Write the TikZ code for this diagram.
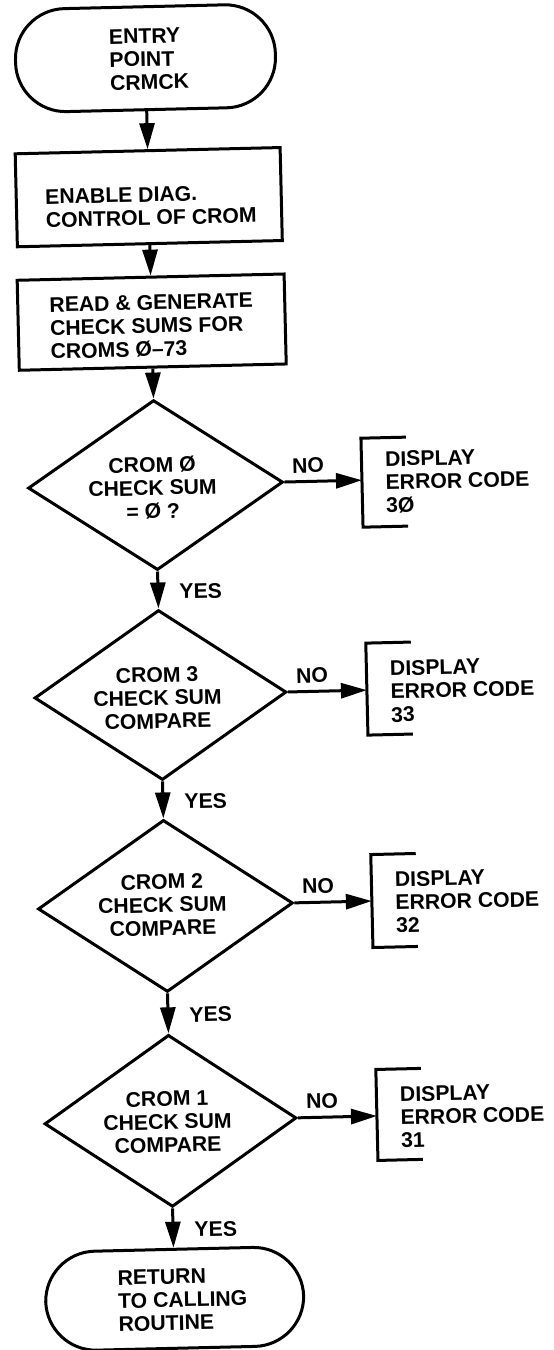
\documentclass[tikz,border=0pt]{standalone}
\usepackage{fontspec}
\setmainfont{Liberation Sans}
\usetikzlibrary{arrows.meta,shapes.geometric}
\newcommand\chartfont{\fontsize{10.6pt}{11.6pt}\selectfont\bfseries}
\begin{document}
\begin{tikzpicture}[x=0.5pt,y=-0.5pt,
  base/.style={draw, line width=1.5pt, inner sep=0pt},
  term/.style={base, rectangle, rounded corners=25pt},
  proc/.style={base, rectangle},
  dec/.style={base, diamond},
  disp/.style={inner sep=0pt, outer sep=0pt, minimum width=22.5pt},
  txt/.style={inner sep=0pt, align=left, font=\chartfont},
  ctxt/.style={inner sep=0pt, align=center, font=\chartfont},
  arr/.style={line width=1.5pt, -{Triangle[length=13pt,width=7.5pt]}},
  brk/.style={line width=1.5pt},
  lblno/.style={inner sep=0pt, font=\chartfont, above=3.5pt, pos=0.31},
  lblyes/.style={inner sep=0pt, font=\chartfont, right=10pt, yshift=-1pt},
]
\useasboundingbox (0,0) rectangle (553,1350);
\begin{scope}[rotate around={1.35:(160,675)}, every node/.append style={transform shape}]
  % main column
  \node[term, minimum width=130pt, minimum height=51.5pt] (t1) at (160,58) {};
  \node[txt] (t1t) at (163.5,59) {ENTRY\\POINT\\CRMCK};
  \node[proc, minimum width=132.5pt, minimum height=46.5pt] (b1) at (160,197) {};
  \node[txt] (b1t) at (162,206) {ENABLE DIAG.\\CONTROL OF CROM};
  \node[proc, minimum width=133.5pt, minimum height=45pt] (b2) at (160,322) {};
  \node[txt] (b2t) at (160,326) {READ \& GENERATE\\CHECK SUMS FOR\\CROMS Ø–73};
  \node[dec, minimum width=127.5pt, minimum height=85pt] (d1) at (160,485) {};
  \node[ctxt] (d1t) at (157,488) {CROM Ø\\CHECK SUM\\= Ø ?};
  \node[dec, minimum width=126pt, minimum height=85pt] (d2) at (160,695) {};
  \node[ctxt] (d2t) at (157,698) {CROM 3\\CHECK SUM\\COMPARE};
  \node[dec, minimum width=127.5pt, minimum height=86pt] (d3) at (160,906) {};
  \node[ctxt] (d3t) at (157,905) {CROM 2\\CHECK SUM\\COMPARE};
  \node[dec, minimum width=126pt, minimum height=86pt] (d4) at (160,1121) {};
  \node[ctxt] (d4t) at (157,1122) {CROM 1\\CHECK SUM\\COMPARE};
  \node[term, minimum width=129pt, minimum height=49.5pt] (t2) at (160,1299) {};
  \node[txt] (t2t) at (168,1300) {RETURN\\TO CALLING\\ROUTINE};
  % error displays
  \node[disp, minimum height=44.5pt] (e1) at (389,487.5) {};
  \node[txt] (e1t) at (462,488) {DISPLAY\\ERROR CODE\\3Ø};
  \node[disp, minimum height=46pt] (e2) at (389,694) {};
  \node[txt] (e2t) at (462,697) {DISPLAY\\ERROR CODE\\33};
  \node[disp, minimum height=46.5pt] (e3) at (389,906) {};
  \node[txt] (e3t) at (462,908) {DISPLAY\\ERROR CODE\\32};
  \node[disp, minimum height=45.5pt] (e4) at (389,1120) {};
  \node[txt] (e4t) at (462,1123) {DISPLAY\\ERROR CODE\\31};
  \foreach \e in {e1,e2,e3,e4}
    \draw[brk] (\e.north east) -- (\e.north west) -- (\e.south west) -- (\e.south east);
  % connectors
  \draw[arr] (t1.south) -- (b1.north);
  \draw[arr] (b1.south) -- (b2.north);
  \draw[arr] (b2.south) -- (d1.north);
  \draw[arr] (d1.south) -- node[lblyes] (y1) {YES} (d2.north);
  \draw[arr] (d2.south) -- node[lblyes] (y2) {YES} (d3.north);
  \draw[arr] (d3.south) -- node[lblyes] (y3) {YES} (d4.north);
  \draw[arr] (d4.south) -- node[lblyes] (y4) {YES} (t2.north);
  \draw[arr] (d1.east) -- node[lblno] (n1) {NO} (d1.east -| e1.west);
  \draw[arr] (d2.east) -- node[lblno] (n2) {NO} (d2.east -| e2.west);
  \draw[arr] (d3.east) -- node[lblno] (n3) {NO} (d3.east -| e3.west);
  \draw[arr] (d4.east) -- node[lblno] (n4) {NO} (d4.east -| e4.west);
\end{scope}
\end{tikzpicture}
\end{document}
